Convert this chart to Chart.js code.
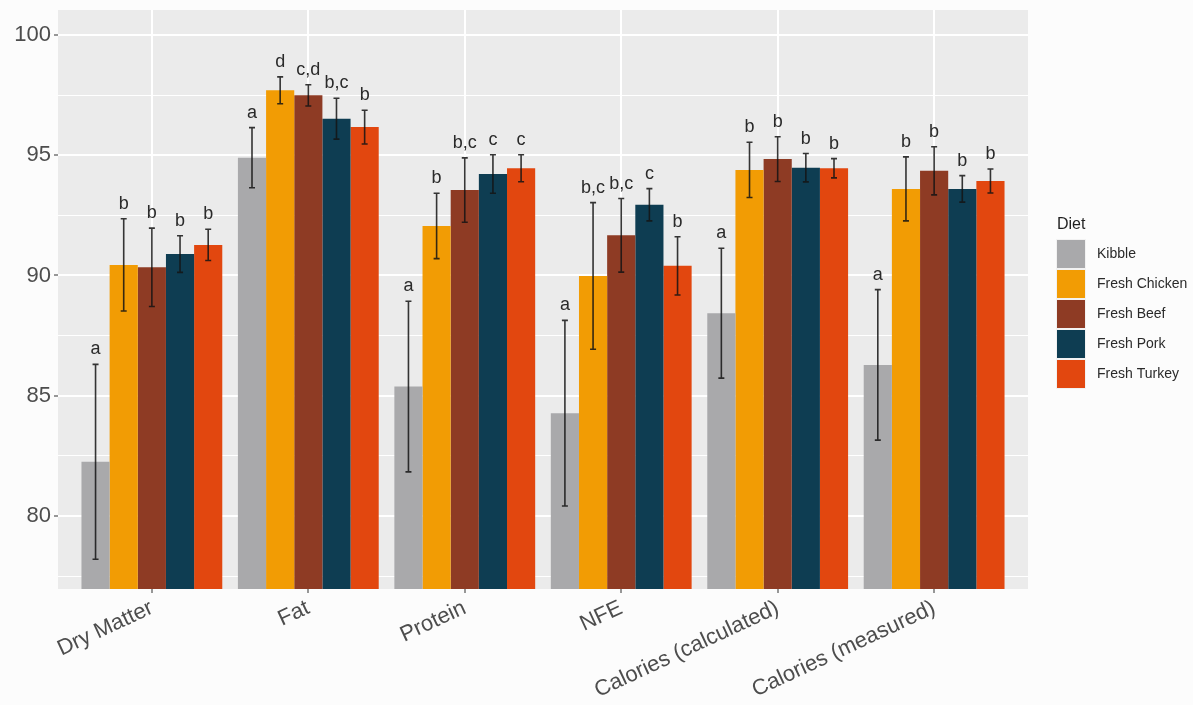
<!DOCTYPE html>
<html>
<head>
<meta charset="utf-8">
<script src="https://cdn.jsdelivr.net/npm/chart.js@4.4.1/dist/chart.umd.min.js"></script>
<style>
  html, body { margin: 0; padding: 0; background: #fcfcfc; }
  #wrap { width: 1193px; height: 705px; position: relative; }
</style>
</head>
<body>
<div id="wrap"><canvas id="c"></canvas></div>
<script>
const categories = ['Dry Matter', 'Fat', 'Protein', 'NFE', 'Calories (calculated)', 'Calories (measured)'];
const diets = ['Kibble', 'Fresh Chicken', 'Fresh Beef', 'Fresh Pork', 'Fresh Turkey'];

const kibble     = [82.25, 94.90, 85.38, 84.27, 88.43, 86.28];
const kibbleErr  = [4.05, 1.25, 3.55, 3.86, 2.70, 3.13];
const kibbleSig  = ['a', 'a', 'a', 'a', 'a', 'a'];

const chicken    = [90.44, 97.70, 92.06, 89.98, 94.39, 93.60];
const chickenErr = [1.92, 0.56, 1.36, 3.05, 1.15, 1.33];
const chickenSig = ['b', 'd', 'b', 'b,c', 'b', 'b'];

const beef       = [90.34, 97.49, 93.55, 91.67, 94.84, 94.35];
const beefErr    = [1.63, 0.44, 1.34, 1.53, 0.93, 1.00];
const beefSig    = ['b', 'c,d', 'b,c', 'b,c', 'b', 'b'];

const pork       = [90.89, 96.52, 94.22, 92.94, 94.48, 93.60];
const porkErr    = [0.76, 0.85, 0.80, 0.67, 0.59, 0.55];
const porkSig    = ['b', 'b,c', 'c', 'c', 'b', 'b'];

const turkey     = [91.27, 96.17, 94.46, 90.40, 94.46, 93.93];
const turkeyErr  = [0.65, 0.70, 0.56, 1.21, 0.40, 0.50];
const turkeySig  = ['b', 'b', 'c', 'b', 'b', 'b'];

const yTicks = [77.5, 80, 82.5, 85, 87.5, 90, 92.5, 95, 97.5, 100];

const colors = ['#a9a9ab', '#f29c04', '#8e3b24', '#0e3d52', '#e2470f'];
const seriesVals = [kibble, chicken, beef, pork, turkey];
const seriesErr = [kibbleErr, chickenErr, beefErr, porkErr, turkeyErr];
const seriesSig = [kibbleSig, chickenSig, beefSig, porkSig, turkeySig];

const datasets = diets.map((name, i) => ({
  label: name,
  data: seriesVals[i].map((v, j) => ({ x: j, y: v })),
  backgroundColor: colors[i],
  borderWidth: 0,
  categoryPercentage: 0.9,
  barPercentage: 1.0,
  err: seriesErr[i],
  sig: seriesSig[i]
}));

const FONT = '"Liberation Sans", Arial, sans-serif';

const panelPlugin = {
  id: 'panel',
  beforeDraw(chart) {
    const { ctx, chartArea: a } = chart;
    ctx.save();
    ctx.fillStyle = '#fcfcfc';
    ctx.fillRect(0, 0, chart.width, chart.height);
    ctx.fillStyle = '#ebebeb';
    ctx.fillRect(a.left, a.top, a.right - a.left, a.bottom - a.top);
    ctx.restore();
  }
};

const errPlugin = {
  id: 'errbars',
  afterDatasetsDraw(chart) {
    const { ctx } = chart;
    const y = chart.scales.y;
    ctx.save();
    chart.data.datasets.forEach((ds, di) => {
      const meta = chart.getDatasetMeta(di);
      meta.data.forEach((bar, j) => {
        const v = ds.data[j].y, e = ds.err[j];
        const yt = y.getPixelForValue(v + e);
        const yb = y.getPixelForValue(v - e);
        const x = bar.x;
        ctx.strokeStyle = 'rgba(20,20,20,0.85)';
        ctx.lineWidth = 1.6;
        ctx.beginPath();
        ctx.moveTo(x, yt); ctx.lineTo(x, yb);
        ctx.moveTo(x - 3, yt); ctx.lineTo(x + 3, yt);
        ctx.moveTo(x - 3, yb); ctx.lineTo(x + 3, yb);
        ctx.stroke();
        ctx.fillStyle = '#2a2a2a';
        ctx.font = '18px ' + FONT;
        ctx.textAlign = 'center';
        ctx.textBaseline = 'alphabetic';
        ctx.fillText(ds.sig[j], x, yt - 10);
      });
    });
    ctx.restore();
  }
};

const legendPlugin = {
  id: 'ggLegend',
  afterDraw(chart) {
    const { ctx } = chart;
    ctx.save();
    ctx.fillStyle = '#1f1f1f';
    ctx.font = '16px ' + FONT;
    ctx.textAlign = 'left';
    ctx.textBaseline = 'alphabetic';
    ctx.fillText('Diet', 1057, 229);
    chart.data.datasets.forEach((ds, i) => {
      const top = 240 + i * 30;
      ctx.fillStyle = '#f2f2f2';
      ctx.fillRect(1056, top - 1, 30, 30);
      ctx.fillStyle = ds.backgroundColor;
      ctx.fillRect(1057, top, 28, 28);
      ctx.fillStyle = '#2a2a2a';
      ctx.font = '14px ' + FONT;
      ctx.textBaseline = 'middle';
      ctx.fillText(ds.label, 1097, top + 14);
    });
    ctx.restore();
  }
};

new Chart(document.getElementById('c'), {
  type: 'bar',
  data: { datasets },
  options: {
    responsive: true,
    maintainAspectRatio: false,
    animation: false,
    devicePixelRatio: 1,
    layout: { padding: { top: 10, right: 165, left: 0, bottom: 0 } },
    plugins: { legend: { display: false }, tooltip: { enabled: false } },
    scales: {
      x: {
        type: 'linear',
        offset: false,
        min: -0.6,
        max: 5.6,
        afterBuildTicks(scale) { scale.ticks = categories.map((c, i) => ({ value: i })); },
        afterFit(scale) { scale.height = 116; scale.paddingLeft = 0; scale.paddingRight = 0; },
        border: { display: false },
        grid: {
          offset: false,
          color: '#ffffff',
          lineWidth: 2,
          drawTicks: true,
          tickLength: 4,
          tickColor: '#333333',
          tickWidth: 1
        },
        ticks: {
          autoSkip: false,
          minRotation: 25,
          maxRotation: 25,
          padding: 2,
          color: '#4d4d4d',
          font: { family: FONT, size: 22 },
          callback: (v) => categories[v] !== undefined ? categories[v] : ''
        }
      },
      y: {
        min: 76.96,
        max: 101.04,
        afterBuildTicks(scale) { scale.ticks = yTicks.map(v => ({ value: v })); },
        afterFit(scale) { scale.width = 58; scale.paddingTop = 0; scale.paddingBottom = 0; },
        border: { display: false },
        grid: {
          color: '#ffffff',
          lineWidth: (ctx) => (ctx.tick && ctx.tick.value % 5 === 0) ? 2 : 1,
          drawTicks: true,
          tickLength: 4,
          tickColor: (ctx) => (ctx.tick && ctx.tick.value % 5 === 0) ? '#333333' : 'rgba(0,0,0,0)',
          tickWidth: 1
        },
        ticks: {
          padding: 3,
          color: '#4d4d4d',
          font: { family: FONT, size: 22 },
          callback: (v) => (v % 5 === 0) ? String(v) : ''
        }
      }
    }
  },
  plugins: [panelPlugin, errPlugin, legendPlugin]
});
</script>
</body>
</html>
